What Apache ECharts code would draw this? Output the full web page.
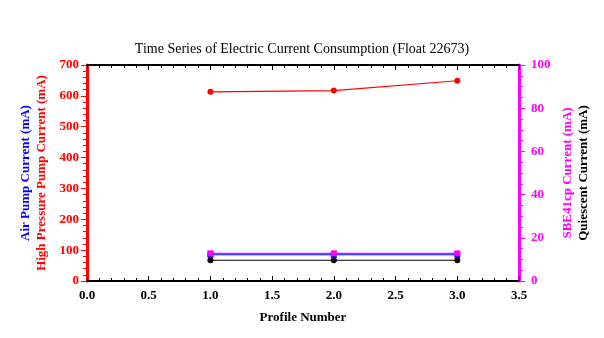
<!DOCTYPE html>
<html><head><meta charset="utf-8">
<script src="https://cdn.jsdelivr.net/npm/echarts@6/dist/echarts.min.js"></script>
<style>html,body{margin:0;padding:0;background:#fff}#c{width:604px;height:338px}</style>
</head><body><div id="c"></div>
<script>
var profiles = [1, 2, 3];
var highPressurePump = [613, 617, 649];
var airPump = [85, 85, 85];
var sbe41cp = [12.8, 12.8, 12.8];
var quiescent = [9.6, 9.6, 9.6];
var titleText = 'Time Series of Electric Current Consumption (Float 22673)';

function pairs(xs, ys){ return xs.map(function(x,i){return [x, ys[i]];}); }
var F = 'Liberation Serif';
var chart = echarts.init(document.getElementById('c'), null, {renderer:'canvas'});
var xBase = {type:'value', min:0, max:3.5, interval:0.5, splitLine:{show:false},
  axisLine:{onZero:false, lineStyle:{color:'#000', width:2}},
  axisTick:{inside:true, length:5, lineStyle:{color:'#000'}},
  minorTick:{show:true, splitNumber:5, length:3, lineStyle:{color:'#000'}}};
chart.setOption({
  animation:false,
  textStyle:{fontFamily:F},
  title:{text:titleText, left:'center', top:37, textStyle:{fontFamily:F, fontSize:14, fontWeight:'normal', color:'#000'}},
  grid:{left:87, right:85, top:65, bottom:57},
  xAxis:[
    Object.assign({}, xBase, {position:'bottom', name:'Profile Number', nameLocation:'middle', nameGap:30,
      nameTextStyle:{fontFamily:F, fontSize:13, fontWeight:'bold', color:'#000'},
      axisLabel:{fontFamily:F, fontSize:13, fontWeight:'bold', color:'#000', margin:8, formatter:function(v){return v.toFixed(1);}}}),
    Object.assign({}, xBase, {position:'top', axisLabel:{show:false}})
  ],
  yAxis:[
    {type:'value', position:'left', min:0, max:700, interval:100, splitLine:{show:false},
      name:'High Pressure Pump Current (mA)', nameLocation:'middle', nameGap:36,
      nameTextStyle:{fontFamily:F, fontSize:13, fontWeight:'bold', color:'#ff0000'},
      axisLine:{show:true, onZero:false, lineStyle:{color:'#ff0000', width:3}},
      axisTick:{show:true, length:6, lineStyle:{color:'#ff0000'}},
      minorTick:{show:true, splitNumber:5, length:4, lineStyle:{color:'#ff0000'}},
      axisLabel:{fontFamily:F, fontSize:13, fontWeight:'bold', color:'#ff0000', margin:8}},
    {type:'value', position:'right', min:0, max:100, interval:20, splitLine:{show:false},
      name:'SBE41cp Current (mA)', nameLocation:'middle', nameGap:39, nameRotate:90,
      nameTextStyle:{fontFamily:F, fontSize:13, fontWeight:'bold', color:'#ff00ff'},
      axisLine:{show:true, onZero:false, lineStyle:{color:'#ff00ff', width:3}},
      axisTick:{show:true, length:6, lineStyle:{color:'#ff00ff'}},
      minorTick:{show:true, splitNumber:4, length:4, lineStyle:{color:'#ff00ff'}},
      axisLabel:{fontFamily:F, fontSize:13, fontWeight:'bold', color:'#ff00ff', margin:12}},
    {type:'value', position:'left', min:0, max:700, interval:100, splitLine:{show:false},
      name:'Air Pump Current (mA)', nameLocation:'middle', nameGap:55,
      nameTextStyle:{fontFamily:F, fontSize:13, fontWeight:'bold', color:'#0000ff'},
      axisLine:{show:false, onZero:false}, axisTick:{show:false}, axisLabel:{show:false}},
    {type:'value', position:'right', min:0, max:100, interval:20, splitLine:{show:false},
      name:'Quiescent Current (mA)', nameLocation:'middle', nameGap:58, nameRotate:90,
      nameTextStyle:{fontFamily:F, fontSize:13, fontWeight:'bold', color:'#000'},
      axisLine:{show:false, onZero:false}, axisTick:{show:false}, axisLabel:{show:false}}
  ],
  series:[
    {type:'line', name:'Air Pump', yAxisIndex:0, data:pairs(profiles, airPump),
      symbol:'rect', symbolSize:6, lineStyle:{color:'#0000ff', width:1.2}, itemStyle:{color:'#0000ff'}},
    {type:'line', name:'SBE41cp', yAxisIndex:1, data:pairs(profiles, sbe41cp),
      symbol:'rect', symbolSize:6, lineStyle:{color:'#ff00ff', width:1.2}, itemStyle:{color:'#ff00ff'}},
    {type:'line', name:'Quiescent', yAxisIndex:1, data:pairs(profiles, quiescent),
      symbol:'circle', symbolSize:6, lineStyle:{color:'#000', width:1.2}, itemStyle:{color:'#000'}},
    {type:'line', name:'High Pressure Pump', yAxisIndex:0, data:pairs(profiles, highPressurePump),
      symbol:'circle', symbolSize:6, lineStyle:{color:'#ff0000', width:1.2}, itemStyle:{color:'#ff0000'}}
  ]
});
</script></body></html>
